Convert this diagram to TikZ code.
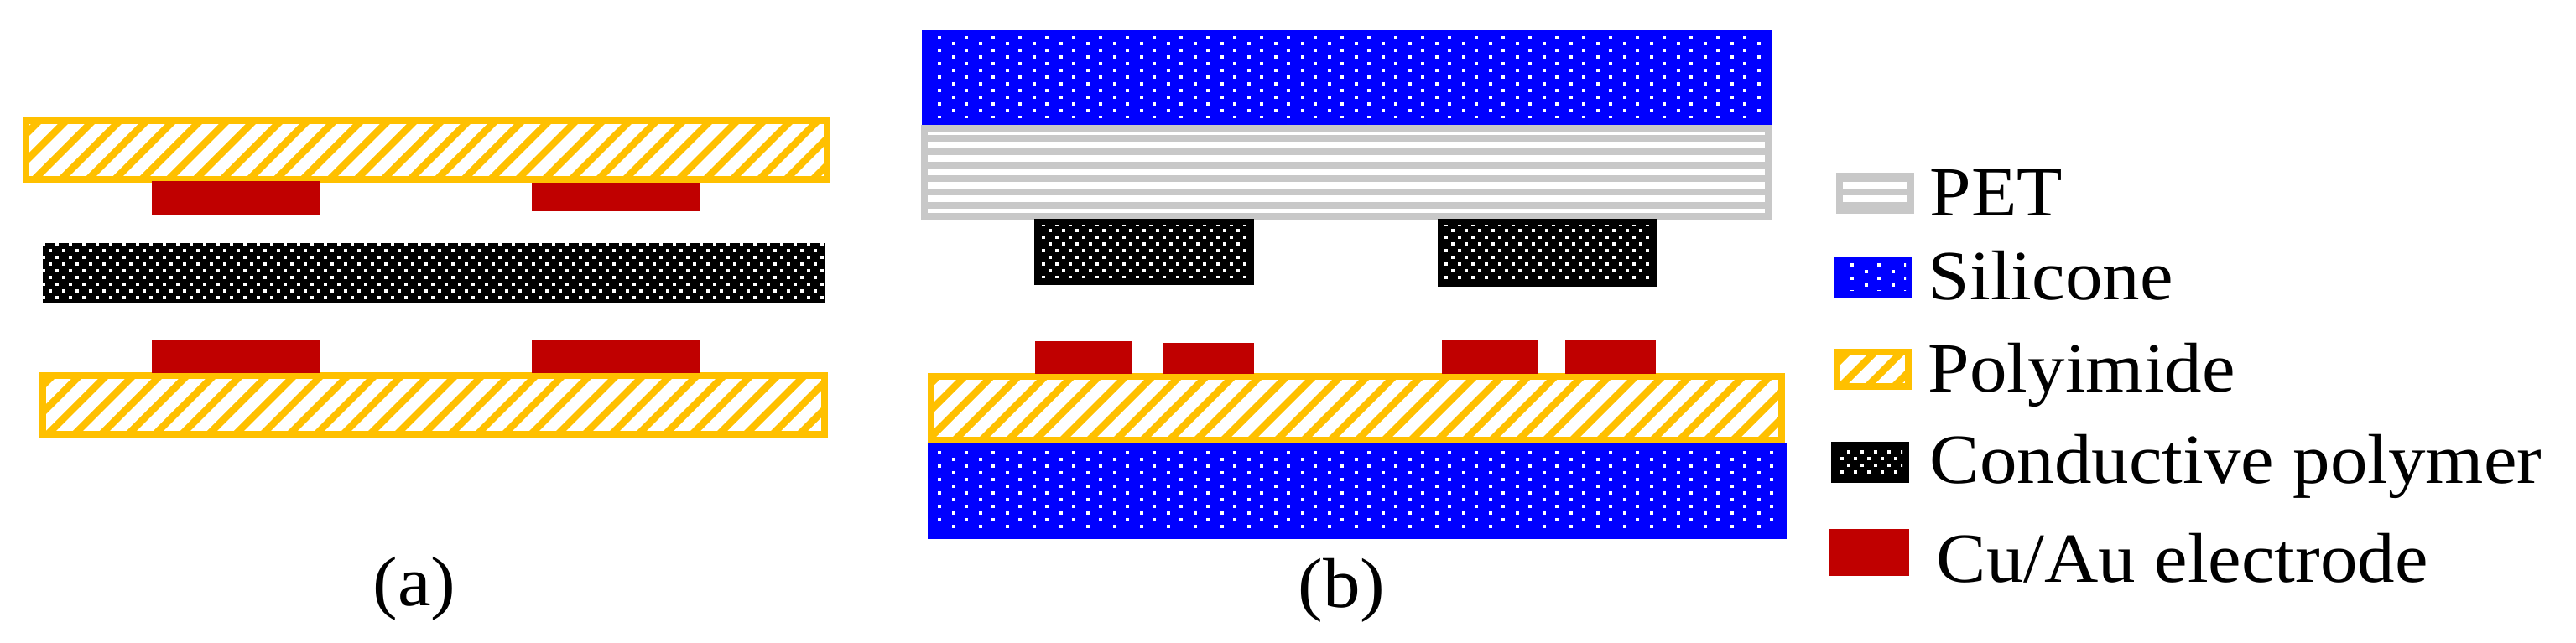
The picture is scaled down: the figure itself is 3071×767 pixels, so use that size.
\documentclass[tikz,border=0pt]{standalone}
\usepackage{fontspec}
\setmainfont[FakeStretch=1.06]{Liberation Serif}
\definecolor{pigold}{HTML}{FFC000}
\definecolor{elecred}{HTML}{C00000}
\definecolor{petgray}{HTML}{C8C8C8}
\tikzset{
polyimide/.style={draw=pigold, line width=2pt},
hatchline/.style={draw=pigold, line width=2.12pt},
pet/.style={draw=petgray, line width=2pt},
siliconebox/.style={fill=blue},
conductive/.style={fill=black},
electrode/.style={fill=elecred},
legendtext/.style={anchor=base west, inner sep=0pt, font=\fontsize{21pt}{25pt}\selectfont},
}
% #1 #2 corner, #3 #4 corner, of the box that is hatched
\newcommand{\hatchbox}[4]{
\begin{scope}
\clip (#1,#2) rectangle (#3,#4);
\pgfmathtruncatemacro{\kfirst}{(#1+#2)/32-1}
\pgfmathtruncatemacro{\klast}{(#3+#4)/32+1}
\foreach \k in {\kfirst,...,\klast}
\draw [hatchline] ({32*\k+31-#2},#2) -- ({32*\k+31-#4},#4);
\end{scope}
\draw [polyimide] (#1,#2) rectangle (#3,#4);
}
\newcommand{\petbox}[4]{
\begin{scope}
\clip (#1,#2) rectangle (#3,#4);
\pgfmathtruncatemacro{\kfirst}{#2/16-1}
\pgfmathtruncatemacro{\klast}{#4/16+1}
\foreach \k in {\kfirst,...,\klast}
\fill [petgray] (#1,{16*\k+1}) rectangle (#3,{16*\k+9});
\end{scope}
\draw [pet] (#1,#2) rectangle (#3,#4);
}
% #5 is the width of the plain rim, #6 the column spacing, #7 to #10 the two dot offsets
\newcommand{\dotbox}[9]{
\begin{scope}
\clip ({#1+#5},{#2+#5}) rectangle ({#3-#5},{#4-#5});
\pgfmathtruncatemacro{\ifirst}{#1/#6-1}
\pgfmathtruncatemacro{\ilast}{#3/#6+1}
\pgfmathtruncatemacro{\jfirst}{#2/16-1}
\pgfmathtruncatemacro{\jlast}{#4/16+1}
\foreach \i in {\ifirst,...,\ilast}
\foreach \j in {\jfirst,...,\jlast}{
\fill [white] ({#6*\i+#7-2},{16*\j+#8-2}) rectangle ++(4,4);
\fill [white] ({#6*\i+#7+#9-2},{16*\j+#8-8-2}) rectangle ++(4,4);
}
\end{scope}
}
\newcommand{\siliconebox}[5]{
\fill [siliconebox] (#1,#2) rectangle (#3,#4);
\dotbox{#1}{#2}{#3}{#4}{#5}{32}{0}{12}{16.5}
}
\newcommand{\conductivebox}[5]{
\fill [conductive] (#1,#2) rectangle (#3,#4);
\dotbox{#1}{#2}{#3}{#4}{#5}{16}{12}{11}{-8}
}
\begin{document}
\begin{tikzpicture}[x=0.25pt,y=-0.25pt]
\useasboundingbox (0,0) rectangle (3071,767);
% panel (a)
\hatchbox{31}{144}{986}{214}
\fill [electrode] (181,216) rectangle (382,256);
\fill [electrode] (634,218) rectangle (834,252);
\conductivebox{51}{290}{983}{361}{0}
\hatchbox{51}{448}{983}{518}
\fill [electrode] (181,405) rectangle (382,445);
\fill [electrode] (634,405) rectangle (834,445);
\node [legendtext] (capa) at (444,723) {(a)};
% panel (b)
\petbox{1102}{153}{2108}{258}
\siliconebox{1099}{36}{2112}{149}{8}
\conductivebox{1233}{261}{1495}{340}{8}
\conductivebox{1714}{261}{1976}{342}{8}
\hatchbox{1110}{449}{2124}{525}
\siliconebox{1106}{529}{2130}{643}{8}
\fill [electrode] (1234,407) rectangle (1350,446);
\fill [electrode] (1387,409) rectangle (1495,446);
\fill [electrode] (1719,406) rectangle (1834,446);
\fill [electrode] (1866,406) rectangle (1974,446);
\node [legendtext] (capb) at (1547,725) {(b)};
% legend
\petbox{2193}{210}{2278}{251}
\siliconebox{2187}{306}{2280}{355}{8}
\hatchbox{2190}{420}{2275}{461}
\conductivebox{2183}{527}{2276}{576}{8}
\fill [electrode] (2180,631) rectangle (2276,687);
\node [legendtext] (lpet) at (2300,258) {PET};
\node [legendtext] (lsil) at (2298,358) {Silicone};
\node [legendtext] (lpi) at (2298,468) {Polyimide};
\node [legendtext] (lcon) at (2300,577) {Conductive polymer};
\node [legendtext] (lele) at (2308,695) {Cu/Au electrode};
\end{tikzpicture}
\end{document}
